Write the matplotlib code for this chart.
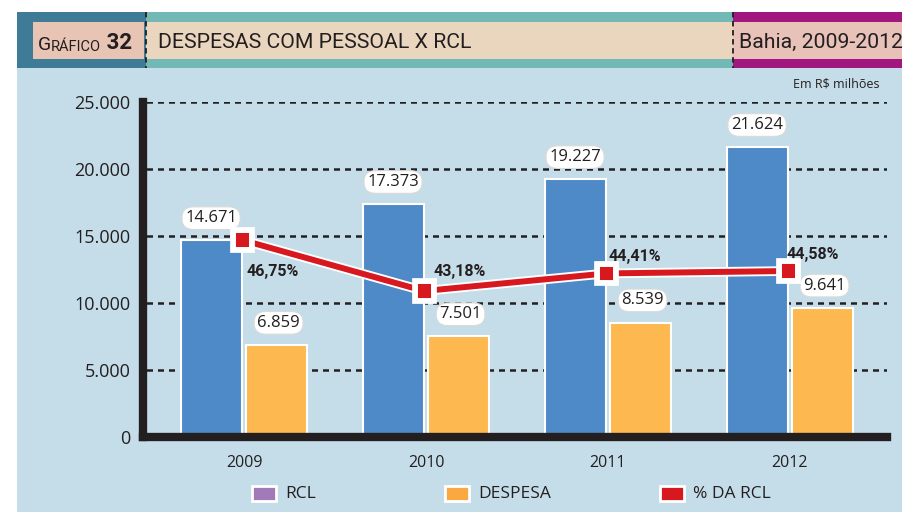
import matplotlib.pyplot as plt
import matplotlib.patheffects as pe
from matplotlib.patches import Rectangle

# data (R$ milhões)
years = ['2009', '2010', '2011', '2012']
rcl = [14671, 17373, 19227, 21624]
despesa = [6859, 7501, 8539, 9641]
pct_rcl = [46.75, 43.18, 44.41, 44.58]

value_fmt = lambda v: f'{v:,}'.replace(',', '.')
pct_fmt = lambda v: f'{v:.2f}%'.replace('.', ',')

# label nudges for the percent labels (points)
pct_offsets = [(3, -23), (7, 14), (2, 12), (-1, 12)]

C_BLUE = '#4e89c8'
C_ORANGE = '#fdb84f'
C_RED = '#d7191f'
C_PANEL = '#c5dde9'
C_TEXT = '#231f20'

NARROW = 'Roboto'
plt.rcParams['font.family'] = ['Open Sans', 'DejaVu Sans']

fig = plt.figure(figsize=(9.03, 5.12), dpi=100)

# background layer in pixel units
bg = fig.add_axes([0, 0, 1, 1])
bg.set_xlim(0, 903)
bg.set_ylim(512, 0)
bg.axis('off')

bg.add_patch(Rectangle((17, 68), 886, 444, color=C_PANEL, lw=0))
# header band
bg.add_patch(Rectangle((17, 12), 129, 56, color='#3d7b97', lw=0))
bg.add_patch(Rectangle((146, 12), 587, 56, color='#72b9b5', lw=0))
bg.add_patch(Rectangle((733, 12), 170, 56, color='#a2177f', lw=0))
bg.add_patch(Rectangle((33, 22), 111, 37, color='#e8c4b5', lw=0))
bg.add_patch(Rectangle((146, 22), 587, 37, color='#ead6be', lw=0))
bg.add_patch(Rectangle((733, 22), 170, 37, color='#e8c2b8', lw=0))
for xv in (146, 733):
    bg.plot([xv, xv], [12, 68], color=C_TEXT, lw=1.3, ls=(0, (3, 2)))

g = bg.text(38, 50, 'G', fontsize=14, family=NARROW, color=C_TEXT, va='baseline')
r = bg.annotate('RÁFICO', xy=(1, 0), xycoords=g, fontsize=10.5, family=NARROW,
                color=C_TEXT, va='bottom')
bg.annotate(' 32', xy=(1, 0), xycoords=r, fontsize=16, family=NARROW,
            fontweight='bold', color=C_TEXT, va='bottom')
bg.text(158, 42, 'DESPESAS COM PESSOAL X RCL', fontsize=15.3, family=NARROW,
        color=C_TEXT, va='center')
bg.text(739, 42, 'Bahia, 2009-2012', fontsize=15.3, family=NARROW,
        color=C_TEXT, va='center')
bg.text(880, 84, 'Em R$ milhões', fontsize=9, color=C_TEXT, ha='right', va='center')

# legend
legend_items = [('RCL', '#a07bb8', 252), ('DESPESA', '#fca841', 445), ('% DA RCL', C_RED, 660)]
for label, col, lx in legend_items:
    bg.add_patch(Rectangle((lx, 486), 24, 15, facecolor=col, edgecolor='white', lw=2))
    bg.text(lx + 33, 494, label, fontsize=12.5, color=C_TEXT, va='center')

# main chart
ax = fig.add_axes([143 / 903, 75 / 512, 744 / 903, 335 / 512])
ax.patch.set_visible(False)
x = list(range(len(years)))
w = 0.335
ax.bar([i - 0.181 for i in x], rcl, width=w, color=C_BLUE, edgecolor='white', lw=1.5, zorder=3)
ax.bar([i + 0.181 for i in x], despesa, width=w, color=C_ORANGE, edgecolor='white', lw=1.5, zorder=3)

box = dict(boxstyle='round,pad=0.2,rounding_size=0.7', fc='white', ec='#d9d9d9', lw=0.8)
for i in x:
    ax.annotate(value_fmt(rcl[i]), (i - 0.181, rcl[i]), xytext=(0, 16), textcoords='offset points',
                ha='center', va='center', fontsize=12, color=C_TEXT, bbox=box, zorder=5)
    ax.annotate(value_fmt(despesa[i]), (i + 0.19, despesa[i]), xytext=(0, 16), textcoords='offset points',
                ha='center', va='center', fontsize=12, color=C_TEXT, bbox=box, zorder=5)

ax.set_xlim(-0.555, 3.533)
ax.set_ylim(0, 25000)
ax.set_yticks([0, 5000, 10000, 15000, 20000, 25000])
ax.set_yticklabels([value_fmt(v) for v in ax.get_yticks().astype(int)])
ax.set_xticks(x)
ax.set_xticklabels(years)
ax.tick_params(axis='y', length=0, pad=9, labelsize=13, labelcolor=C_TEXT)
ax.tick_params(axis='x', length=0, pad=13, labelsize=11.5, labelcolor=C_TEXT)
ax.grid(axis='y', color=C_TEXT, lw=1.8, ls=(3, (2.4, 2)))
ax.set_axisbelow(True)
for side in ('top', 'right'):
    ax.spines[side].set_visible(False)
for side in ('left', 'bottom'):
    ax.spines[side].set_linewidth(6)
    ax.spines[side].set_color(C_TEXT)
    ax.spines[side].set_capstyle('projecting')
    ax.spines[side].set_zorder(4)

# percent line on its own scale
ax2 = ax.twinx()
ax2.set_ylim(32.96, 56.41)
ax2.axis('off')
lx = [i - 0.01 for i in x]
ax2.plot(lx, pct_rcl, color=C_RED, lw=4.3, marker='s', markersize=11,
         markerfacecolor=C_RED, markeredgecolor='white', markeredgewidth=1.4,
         path_effects=[pe.Stroke(linewidth=7, foreground='white'), pe.Normal()], zorder=6)
for i in x:
    ax2.annotate(pct_fmt(pct_rcl[i]), (lx[i], pct_rcl[i]), xytext=pct_offsets[i],
                 textcoords='offset points', ha='left', va='center', fontsize=11.5,
                 family=NARROW, fontweight='bold', color=C_TEXT)

fig.savefig('out.png', dpi=100)
